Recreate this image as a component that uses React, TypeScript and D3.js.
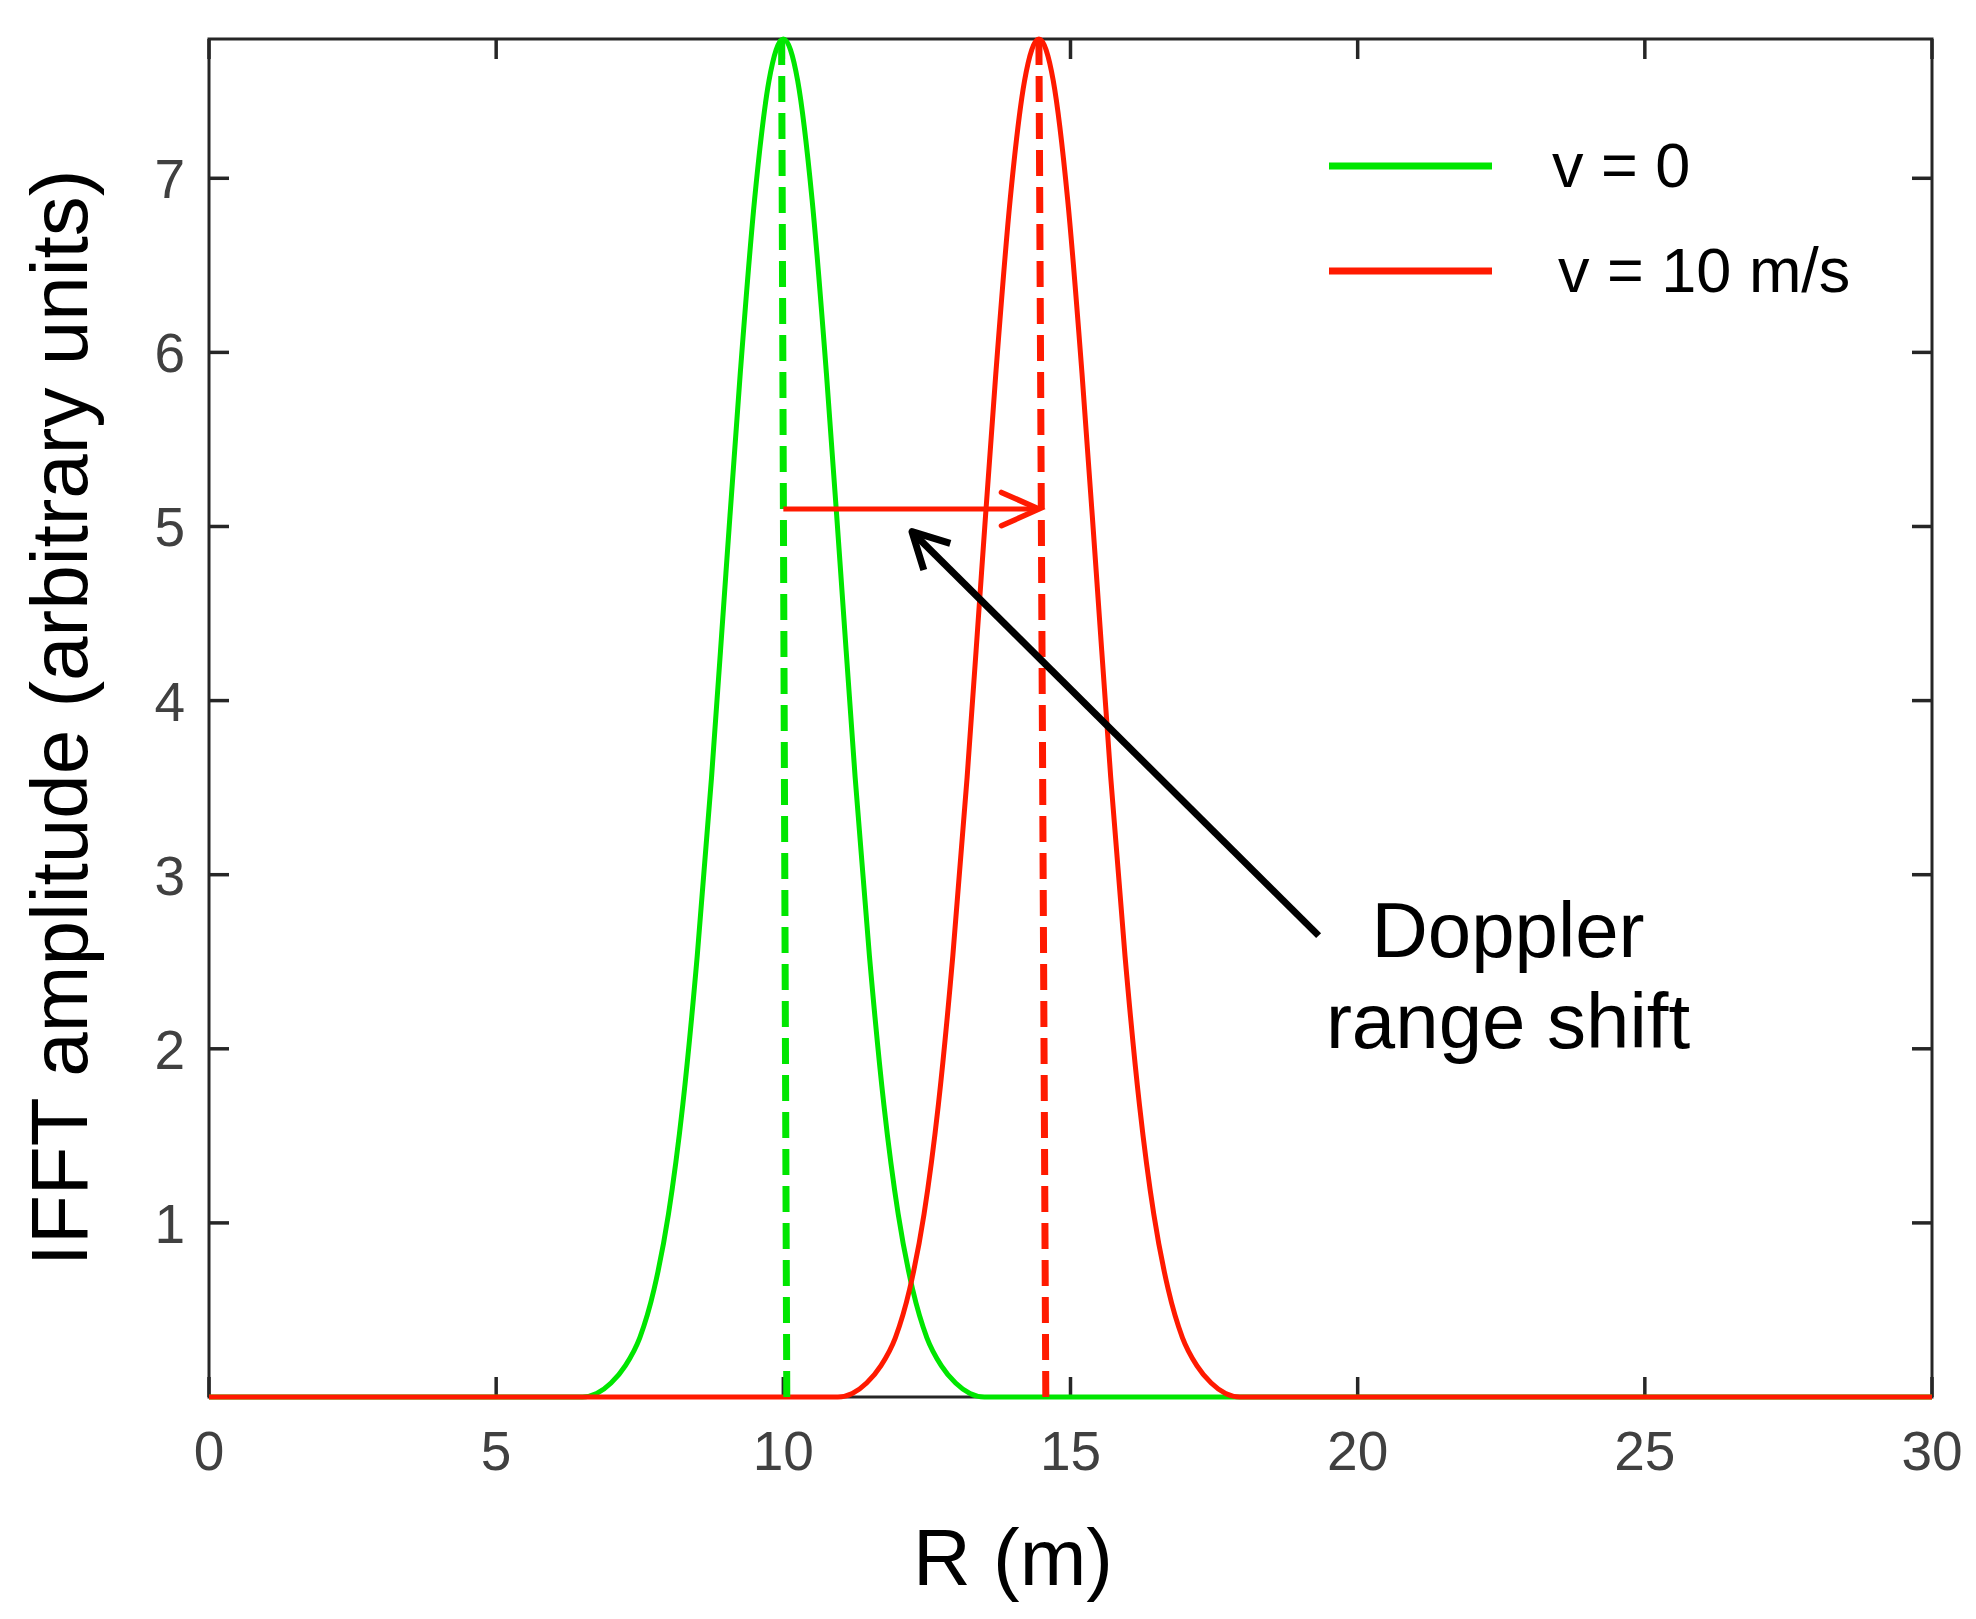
import { useEffect, useRef } from "react";
import * as d3 from "d3";

const WIDTH = 1976;
const HEIGHT = 1619;
const MARGIN = { top: 39, right: 44, bottom: 222, left: 209 };

const FONT = "'Liberation Sans', Arial, Helvetica, sans-serif";
const AXIS = "#262626";
const GREEN = "#00e600";
const RED = "#ff1a00";

const xDomain = [0, 30];
const yDomain = [0, 7.8];
const xTicks = [0, 5, 10, 15, 20, 25, 30];
const yTicks = [1, 2, 3, 4, 5, 6, 7];

// v = 0 range profile
const greenR = [0, 6.5, 6.75, 7.0, 7.25, 7.5, 7.75, 8.0, 8.25, 8.5, 8.75, 9.0, 9.25, 9.5, 9.75, 10.0, 10.25, 10.5, 10.75, 11.0, 11.25, 11.5, 11.75, 12.0, 12.25, 12.5, 12.75, 13.0, 13.25, 13.5, 30];
const greenAmp = [0, 0, 0.02, 0.08, 0.18, 0.34, 0.62, 1.05, 1.68, 2.53, 3.56, 4.73, 5.88, 6.88, 7.56, 7.8, 7.56, 6.88, 5.88, 4.73, 3.56, 2.53, 1.68, 1.05, 0.62, 0.34, 0.18, 0.08, 0.02, 0, 0];

// v = 10 m/s range profile
const redR = [0, 10.95, 11.2, 11.45, 11.7, 11.95, 12.2, 12.45, 12.7, 12.95, 13.2, 13.45, 13.7, 13.95, 14.2, 14.45, 14.7, 14.95, 15.2, 15.45, 15.7, 15.95, 16.2, 16.45, 16.7, 16.95, 17.2, 17.45, 17.7, 17.95, 30];
const redAmp = [0, 0, 0.02, 0.08, 0.18, 0.34, 0.62, 1.05, 1.68, 2.53, 3.56, 4.73, 5.88, 6.88, 7.56, 7.8, 7.56, 6.88, 5.88, 4.73, 3.56, 2.53, 1.68, 1.05, 0.62, 0.34, 0.18, 0.08, 0.02, 0, 0];

const legendLabels = ["v = 0", "v = 10 m/s"];
const noteLines = ["Doppler", "range shift"];

// dashed peak markers: R at top, R at bottom
const greenPeakLine = [9.97, 10.06];
const redPeakLine = [14.45, 14.57];
// shift arrow and pointer arrow, in data units
const shiftArrowR = [10.0, 14.45];
const shiftArrowAmp = 5.1;
const pointerR = [19.32, 12.24];
const pointerAmp = [2.65, 4.97];

type Pt = [number, number];

function arrowHead(tip: Pt, tail: Pt, len: number, spread: number): Pt[] {
  const a = Math.atan2(tip[1] - tail[1], tip[0] - tail[0]);
  return [
    [tip[0] - len * Math.cos(a - spread), tip[1] - len * Math.sin(a - spread)],
    tip,
    [tip[0] - len * Math.cos(a + spread), tip[1] - len * Math.sin(a + spread)],
  ];
}

export default function App() {
  const svgRef = useRef<SVGSVGElement>(null);

  useEffect(() => {
    document.body.style.margin = "0";
    if (!svgRef.current) return;
    const svg = d3.select(svgRef.current);
    svg.selectAll("*").remove();

    const x = d3
      .scaleLinear()
      .domain(xDomain)
      .range([MARGIN.left, WIDTH - MARGIN.right]);
    const y = d3
      .scaleLinear()
      .domain(yDomain)
      .range([HEIGHT - MARGIN.bottom, MARGIN.top]);

    const x0 = x(xDomain[0]);
    const x1 = x(xDomain[1]);
    const y0 = y(yDomain[0]);
    const y1 = y(yDomain[1]);

    svg.append("rect").attr("width", WIDTH).attr("height", HEIGHT).attr("fill", "white");

    // Box
    svg
      .append("rect")
      .attr("x", x0)
      .attr("y", y1)
      .attr("width", x1 - x0)
      .attr("height", y0 - y1)
      .attr("fill", "none")
      .attr("stroke", AXIS)
      .attr("stroke-width", 3);

    // Ticks (inward, all four sides)
    const ticks = svg.append("g").attr("stroke", AXIS).attr("stroke-width", 3.5);
    xTicks.forEach((t) => {
      ticks.append("line").attr("x1", x(t)).attr("x2", x(t)).attr("y1", y0).attr("y2", y0 - 20);
      ticks.append("line").attr("x1", x(t)).attr("x2", x(t)).attr("y1", y1).attr("y2", y1 + 20);
    });
    yTicks.forEach((t) => {
      ticks.append("line").attr("x1", x0).attr("x2", x0 + 20).attr("y1", y(t)).attr("y2", y(t));
      ticks.append("line").attr("x1", x1).attr("x2", x1 - 20).attr("y1", y(t)).attr("y2", y(t));
    });

    // Tick labels
    svg
      .append("g")
      .selectAll("text")
      .data(xTicks)
      .join("text")
      .attr("x", (d) => x(d))
      .attr("y", y0 + 73)
      .attr("text-anchor", "middle")
      .attr("font-family", FONT)
      .attr("font-size", 55)
      .attr("fill", "#404040")
      .text((d) => d);

    svg
      .append("g")
      .selectAll("text")
      .data(yTicks)
      .join("text")
      .attr("x", x0 - 24)
      .attr("y", (d) => y(d) + 20)
      .attr("text-anchor", "end")
      .attr("font-family", FONT)
      .attr("font-size", 55)
      .attr("fill", "#404040")
      .text((d) => d);

    // Curves
    const line = d3
      .line<[number, number]>()
      .x((d) => x(d[0]))
      .y((d) => y(d[1]))
      .curve(d3.curveMonotoneX);

    const greenPts = greenR.map((r, i) => [r, greenAmp[i]] as [number, number]);
    const redPts = redR.map((r, i) => [r, redAmp[i]] as [number, number]);

    svg
      .append("path")
      .datum(greenPts)
      .attr("d", line)
      .attr("fill", "none")
      .attr("stroke", GREEN)
      .attr("stroke-width", 5);

    svg
      .append("path")
      .datum(redPts)
      .attr("d", line)
      .attr("fill", "none")
      .attr("stroke", RED)
      .attr("stroke-width", 5);

    // Dashed peak markers
    [
      { r: greenPeakLine, color: GREEN },
      { r: redPeakLine, color: RED },
    ].forEach(({ r, color }) => {
      svg
        .append("line")
        .attr("x1", x(r[0]))
        .attr("y1", y1)
        .attr("x2", x(r[1]))
        .attr("y2", y0)
        .attr("stroke", color)
        .attr("stroke-width", 7)
        .attr("stroke-dasharray", "26,11");
    });

    // Red shift arrow
    const sTail: Pt = [x(shiftArrowR[0]), y(shiftArrowAmp)];
    const sTip: Pt = [x(shiftArrowR[1]), y(shiftArrowAmp)];
    svg
      .append("line")
      .attr("x1", sTail[0])
      .attr("y1", sTail[1])
      .attr("x2", sTip[0] - 2)
      .attr("y2", sTip[1])
      .attr("stroke", RED)
      .attr("stroke-width", 5);
    svg
      .append("path")
      .attr("d", d3.line()(arrowHead(sTip, sTail, 41, (24 * Math.PI) / 180)))
      .attr("fill", "none")
      .attr("stroke", RED)
      .attr("stroke-width", 5.5)
      .attr("stroke-linecap", "round");

    // Black pointer arrow
    const pTail: Pt = [x(pointerR[0]), y(pointerAmp[0])];
    const pTip: Pt = [x(pointerR[1]), y(pointerAmp[1])];
    svg
      .append("line")
      .attr("x1", pTail[0])
      .attr("y1", pTail[1])
      .attr("x2", pTip[0] + 3)
      .attr("y2", pTip[1] + 3)
      .attr("stroke", "black")
      .attr("stroke-width", 7);
    svg
      .append("path")
      .attr("d", d3.line()(arrowHead(pTip, pTail, 40, (28 * Math.PI) / 180)))
      .attr("fill", "none")
      .attr("stroke", "black")
      .attr("stroke-width", 7)
      .attr("stroke-linejoin", "round");

    // Legend
    const legendColors = [GREEN, RED];
    const legendY = [166, 271];
    const legendTextX = [1552, 1558];
    legendLabels.forEach((label, i) => {
      svg
        .append("line")
        .attr("x1", 1329)
        .attr("x2", 1492)
        .attr("y1", legendY[i])
        .attr("y2", legendY[i])
        .attr("stroke", legendColors[i])
        .attr("stroke-width", 7);
      svg
        .append("text")
        .attr("x", legendTextX[i])
        .attr("y", legendY[i] + 21)
        .attr("font-family", FONT)
        .attr("font-size", 63)
        .attr("fill", "black")
        .text(label);
    });

    // Annotation
    noteLines.forEach((t, i) => {
      svg
        .append("text")
        .attr("x", 1508)
        .attr("y", 957 + i * 91)
        .attr("text-anchor", "middle")
        .attr("font-family", FONT)
        .attr("font-size", 78)
        .attr("fill", "black")
        .text(t);
    });

    // Axis titles
    svg
      .append("text")
      .attr("x", 1013)
      .attr("y", 1585)
      .attr("text-anchor", "middle")
      .attr("font-family", FONT)
      .attr("font-size", 80)
      .attr("fill", "black")
      .text("R (m)");

    svg
      .append("text")
      .attr("transform", `translate(87,${(y0 + y1) / 2}) rotate(-90)`)
      .attr("text-anchor", "middle")
      .attr("font-family", FONT)
      .attr("font-size", 80)
      .attr("fill", "black")
      .text("IFFT amplitude (arbitrary units)");
  }, []);

  return <svg ref={svgRef} width={WIDTH} height={HEIGHT} style={{ display: "block" }} />;
}
